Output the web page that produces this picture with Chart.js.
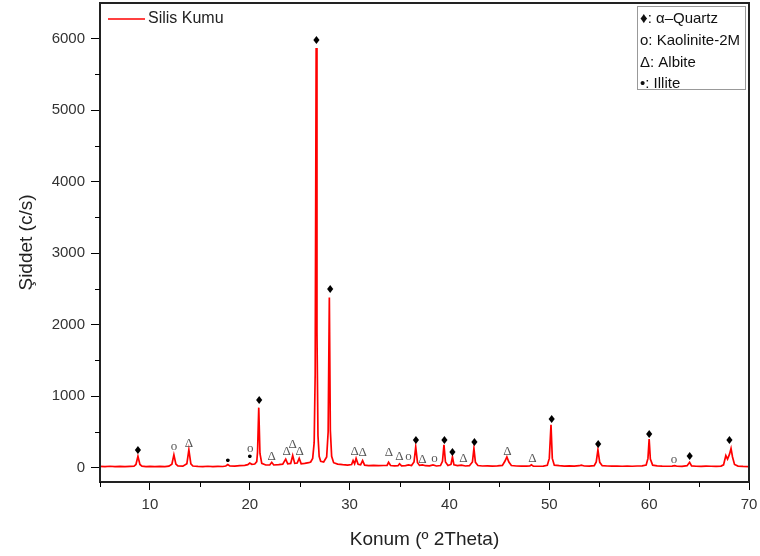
<!DOCTYPE html>
<html>
<head>
<meta charset="utf-8">
<script src="https://cdn.jsdelivr.net/npm/chart.js@4"></script>
<style>
  html, body { margin: 0; padding: 0; background: #fff; }
  #wrap { width: 760px; height: 556px; }
</style>
</head>
<body>
<div id="wrap"><canvas id="xrdChart" width="760" height="556"></canvas></div>
<script>
// XRD pattern (2Theta, c/s)
const twoTheta = [
  5.0, 5.5, 6.0, 6.5, 7.0, 7.5, 8.0, 8.4, 8.6, 8.8, 9.0, 9.2, 9.6,
  10.0, 10.5, 11.0, 11.5, 11.9, 12.2, 12.4, 12.6, 12.8, 13.3, 13.7, 13.9, 14.1, 14.3, 14.8,
  15.3, 15.8, 16.3, 16.8, 17.3, 17.6, 17.8, 18.0, 18.5, 19.0, 19.5, 19.8, 20.0, 20.2, 20.5, 20.7,
  20.78, 20.9, 21.02, 21.2, 21.6, 22.0, 22.2, 22.4, 22.9, 23.3, 23.6, 23.8, 24.1, 24.3, 24.5,
  24.75, 24.95, 25.15, 25.5, 25.9, 26.1, 26.3, 26.45, 26.55, 26.65, 26.73, 26.83, 26.95,
  27.1, 27.4, 27.7, 27.85, 27.97, 28.07, 28.2, 28.4, 28.8, 29.3, 29.8,
  30.2, 30.35, 30.5, 30.65, 30.85, 31.1, 31.3, 31.5, 31.9, 32.4, 32.9, 33.4, 33.75, 33.9,
  34.1, 34.5, 34.85, 35.0, 35.2, 35.6, 35.9, 36.2, 36.45, 36.62, 36.8, 37.0, 37.3, 37.6,
  38.0, 38.35, 38.7, 39.1, 39.3, 39.45, 39.6, 39.85, 40.15, 40.3, 40.45, 40.8, 41.2, 41.6,
  42.0, 42.3, 42.45, 42.6, 42.85, 43.3, 43.8, 44.3, 44.8, 45.3, 45.55, 45.75, 45.95, 46.2,
  46.7, 47.2, 47.7, 48.05, 48.2, 48.4, 48.9, 49.4, 49.8, 50.0, 50.17, 50.3, 50.5,
  51.0, 51.5, 52.0, 52.5, 53.0, 53.2, 53.5, 54.0, 54.5, 54.7, 54.87, 55.05, 55.3,
  55.8, 56.3, 56.8, 57.3, 57.8, 58.3, 58.8, 59.3, 59.7, 59.88, 60.0, 60.12, 60.35,
  60.8, 61.3, 61.8, 62.3, 62.55, 62.8, 63.3, 63.8, 64.05, 64.25, 64.7, 65.2, 65.7,
  66.2, 66.7, 67.2, 67.45, 67.68, 67.85, 68.05, 68.2, 68.35, 68.55, 68.9, 69.4, 70.0
];
const intensity = [
  18, 14, 20, 15, 19, 14, 18, 20, 45, 160, 45, 22, 16,
  19, 14, 18, 15, 22, 50, 180, 50, 24, 21, 55, 250, 55, 24, 18,
  16, 20, 15, 19, 17, 24, 45, 24, 22, 28, 32, 42, 65, 48, 52, 85,
  220, 840, 200, 60, 38, 38, 75, 38, 42, 50, 120, 55, 60, 170, 60,
  65, 130, 55, 60, 70, 80, 130, 350, 1300, 5870, 1900, 450, 160,
  90, 80, 150, 500, 2380, 520, 160, 70, 50, 42, 36,
  45, 100, 55, 130, 48, 40, 100, 36, 30, 33, 28, 31, 33, 75,
  30, 26, 28, 55, 26, 30, 38, 30, 80, 290, 70, 32, 40, 28,
  26, 38, 24, 30, 90, 320, 80, 30, 45, 150, 40, 28, 35, 24,
  28, 80, 270, 75, 30, 24, 26, 22, 26, 33, 90, 150, 80, 30,
  24, 22, 21, 26, 40, 22, 20, 22, 33, 130, 600, 130, 36,
  28, 23, 25, 22, 28, 36, 24, 21, 28, 80, 250, 75, 28,
  24, 21, 23, 20, 22, 20, 24, 26, 38, 130, 400, 120, 36,
  26, 22, 20, 22, 28, 20, 18, 28, 75, 26, 20, 18, 23,
  20, 18, 22, 40, 170, 120, 190, 270, 150, 45, 23, 18, 16
];

// phase marks above the peaks
const markX = [8.8, 12.4, 13.9, 17.8, 20.05, 20.0, 20.95, 22.2, 23.7, 24.3, 25.0, 26.67, 28.05,
  30.5, 31.3, 33.95, 35.0, 35.9, 36.65, 37.3, 38.5, 39.5, 40.3, 41.4, 42.5, 45.8, 48.3,
  50.25, 54.9, 60.0, 62.5, 64.05, 68.05];
const markY = [228, 280, 335, 90, 250, 140, 930, 160, 228, 320, 228, 5960, 2490,
  228, 210, 210, 155, 140, 370, 110, 110, 370, 210, 125, 350, 228, 125,
  670, 320, 460, 100, 145, 370];
const markSym = ['q', 'o', 'd', 'i', 'o', 'i', 'q', 'd', 'd', 'd', 'd', 'q', 'q',
  'd', 'd', 'd', 'd', 'o', 'q', 'd', 'o', 'q', 'q', 'd', 'q', 'd', 'd',
  'q', 'q', 'q', 'o', 'q', 'q'];

const phaseLabels = ['♦: α–Quartz', 'o: Kaolinite-2M', 'Δ: Albite', '•: Illite'];
const seriesName = 'Silis Kumu';
const xMajor = [10, 20, 30, 40, 50, 60, 70];
const xMinor = [5, 15, 25, 35, 45, 55, 65];
const yMajor = [0, 1000, 2000, 3000, 4000, 5000, 6000];
const yMinor = [500, 1500, 2500, 3500, 4500, 5500];

const points = twoTheta.map((t, i) => ({ x: t, y: intensity[i] }));

const decor = {
  id: 'decor',
  afterDatasetsDraw(chart) {
    const { ctx, scales: { x, y } } = chart;
    ctx.save();
    ctx.textAlign = 'center';
    ctx.textBaseline = 'middle';
    markX.forEach((mx, i) => {
      const px = x.getPixelForValue(mx);
      const py = y.getPixelForValue(markY[i]);
      const s = markSym[i];
      if (s === 'q') {
        ctx.fillStyle = '#000';
        ctx.font = '11px "DejaVu Sans"';
        ctx.fillText('♦', px, py);
      } else if (s === 'i') {
        ctx.fillStyle = '#000';
        ctx.font = '13px "DejaVu Sans"';
        ctx.fillText('•', px, py);
      } else if (s === 'o') {
        ctx.fillStyle = '#555';
        ctx.font = '13px "Liberation Serif"';
        ctx.fillText('o', px, py - 1);
      } else {
        ctx.fillStyle = '#555';
        ctx.font = '13px "Liberation Serif"';
        ctx.fillText('Δ', px, py);
      }
    });
    ctx.restore();
  },
  afterDraw(chart) {
    const { ctx, chartArea: a, scales: { x, y } } = chart;
    ctx.save();
    // frame
    ctx.strokeStyle = '#222';
    ctx.lineWidth = 2;
    ctx.strokeRect(a.left, a.top, a.right - a.left, a.bottom - a.top);
    // minor ticks
    ctx.strokeStyle = '#000';
    ctx.lineWidth = 1;
    ctx.beginPath();
    xMinor.forEach(v => {
      const px = Math.round(x.getPixelForValue(v)) + 0.5;
      ctx.moveTo(px, a.bottom);
      ctx.lineTo(px, a.bottom + 5);
    });
    yMinor.forEach(v => {
      const py = Math.round(y.getPixelForValue(v)) + 0.5;
      ctx.moveTo(a.left, py);
      ctx.lineTo(a.left - 5, py);
    });
    ctx.stroke();

    // series legend (top left)
    ctx.strokeStyle = '#ff0000';
    ctx.lineWidth = 1.5;
    ctx.beginPath();
    ctx.moveTo(a.left + 8, a.top + 16);
    ctx.lineTo(a.left + 45, a.top + 16);
    ctx.stroke();
    ctx.fillStyle = '#222';
    ctx.font = '16px "Liberation Sans"';
    ctx.textBaseline = 'middle';
    ctx.fillText(seriesName, a.left + 48, a.top + 16);

    // phase legend (top right)
    const bx = 637, by = 6, bw = 108, bh = 83;
    ctx.fillStyle = '#fff';
    ctx.fillRect(bx, by, bw, bh);
    ctx.strokeStyle = '#999';
    ctx.lineWidth = 1;
    ctx.strokeRect(bx + 0.5, by + 0.5, bw, bh);
    ctx.fillStyle = '#111';
    ctx.font = '15px "Liberation Sans"';
    phaseLabels.forEach((t, i) => {
      ctx.fillText(t, bx + 3, by + 13 + i * 21.7);
    });
    ctx.restore();
  }
};

new Chart(document.getElementById('xrdChart').getContext('2d'), {
  type: 'line',
  data: {
    datasets: [{
      label: seriesName,
      data: points,
      borderColor: '#ff0000',
      borderWidth: 1.7,
      pointRadius: 0,
      tension: 0,
      fill: false
    }]
  },
  options: {
    responsive: false,
    animation: false,
    layout: { padding: { top: 3, right: 11, left: 0, bottom: 0 } },
    plugins: {
      legend: { display: false },
      tooltip: { enabled: false }
    },
    scales: {
      x: {
        type: 'linear',
        min: 5,
        max: 70,
        afterFit: s => { s.height = 74; s.paddingLeft = 0; s.paddingRight = 0; },
        afterBuildTicks: s => { s.ticks = xMajor.map(v => ({ value: v })); },
        ticks: {
          color: '#333',
          font: { family: 'Liberation Sans', size: 15 },
          padding: 6,
          maxRotation: 0,
          callback: v => String(v)
        },
        grid: { drawOnChartArea: false, drawTicks: true, tickLength: 8, color: '#000', lineWidth: 1 },
        border: { display: true, color: '#222', width: 2 },
        title: {
          display: true,
          text: 'Konum (º 2Theta)',
          color: '#222',
          font: { family: 'Liberation Sans', size: 19 },
          padding: { top: 0, bottom: 5 }
        }
      },
      y: {
        min: -200,
        max: 6500,
        afterFit: s => { s.width = 100; s.paddingTop = 0; s.paddingBottom = 0; },
        afterBuildTicks: s => { s.ticks = yMajor.map(v => ({ value: v })); },
        ticks: {
          color: '#333',
          font: { family: 'Liberation Sans', size: 15 },
          padding: 6,
          callback: v => String(v)
        },
        grid: { drawOnChartArea: false, drawTicks: true, tickLength: 9, color: '#000', lineWidth: 1 },
        border: { display: true, color: '#222', width: 2 },
        title: {
          display: true,
          text: 'Şiddet (c/s)',
          color: '#222',
          font: { family: 'Liberation Sans', size: 19 },
          padding: { top: 15, bottom: 4 }
        }
      }
    }
  },
  plugins: [decor]
});
</script>
</body>
</html>
